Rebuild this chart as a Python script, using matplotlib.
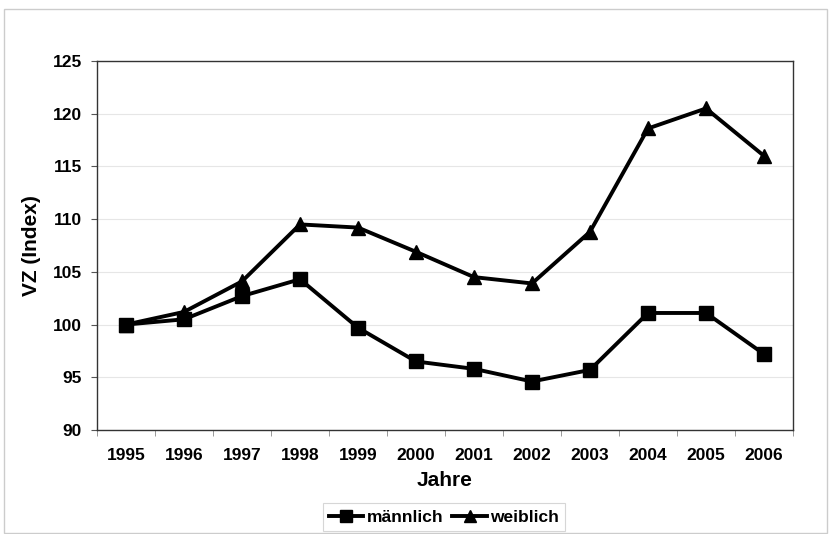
import matplotlib
matplotlib.use('Agg')
import matplotlib.pyplot as plt
from matplotlib.patches import Rectangle

plt.rcParams['font.family'] = ['Liberation Sans', 'DejaVu Sans']
plt.rcParams['font.weight'] = 'bold'

jahre = ['1995', '1996', '1997', '1998', '1999', '2000',
         '2001', '2002', '2003', '2004', '2005', '2006']
maennlich = [100.0, 100.5, 102.7, 104.3, 99.7, 96.5,
             95.8, 94.6, 95.7, 101.1, 101.1, 97.2]
weiblich = [100.0, 101.2, 104.1, 109.5, 109.2, 106.9,
            104.5, 103.9, 108.8, 118.6, 120.5, 116.0]
y_ticks = [90, 95, 100, 105, 110, 115, 120, 125]

fig = plt.figure(figsize=(8.31, 5.34), dpi=100)
ax = fig.add_axes([97/831, 1 - 430/534, 696/831, 369/534])

x = list(range(len(jahre)))
ax.plot(x, maennlich, color='black', lw=2.8, marker='s', ms=10,
        label='männlich', clip_on=False)
ax.plot(x, weiblich, color='black', lw=2.8, marker='^', ms=10.5,
        label='weiblich', clip_on=False)

ax.set_xlim(-0.5, len(jahre) - 0.5)
ax.set_ylim(90, 125)
ax.set_yticks(y_ticks)
ax.set_yticklabels([str(t) for t in y_ticks], fontsize=12.5, fontweight='bold')
ax.set_xticks(x)
ax.set_xticklabels(jahre, fontsize=12.5, fontweight='bold')
ax.set_xticks([i - 0.5 for i in range(len(jahre) + 1)], minor=True)
ax.tick_params(axis='x', which='major', length=0, pad=13)
ax.tick_params(axis='x', which='minor', length=4, color='#888888')
ax.tick_params(axis='y', length=4, pad=7, color='#555555')

ax.grid(axis='y', color='#e6e6e6', lw=0.8)
ax.set_axisbelow(True)
for s in ax.spines.values():
    s.set_color('#333333')
    s.set_linewidth(1.0)

ax.set_xlabel('Jahre', fontsize=15, fontweight='bold', labelpad=6)
ax.set_ylabel('VZ (Index)', fontsize=15, fontweight='bold', labelpad=8)

leg = ax.legend(loc='center', bbox_to_anchor=(444/831, 1 - 517/534),
                bbox_transform=fig.transFigure, ncol=2, fontsize=12.5,
                frameon=True, fancybox=False, handlelength=2.0,
                handletextpad=0.2, columnspacing=0.5, borderpad=0.35,
                markerscale=0.8)
leg.get_frame().set_edgecolor('#cccccc')
leg.get_frame().set_linewidth(0.8)

# outer frame
fig.patches.append(Rectangle((4/831, 0.002), 823/831, 1 - 10/534,
                             transform=fig.transFigure, fill=False,
                             edgecolor='#cccccc', lw=1.0))

fig.savefig('out.png', dpi=100)
